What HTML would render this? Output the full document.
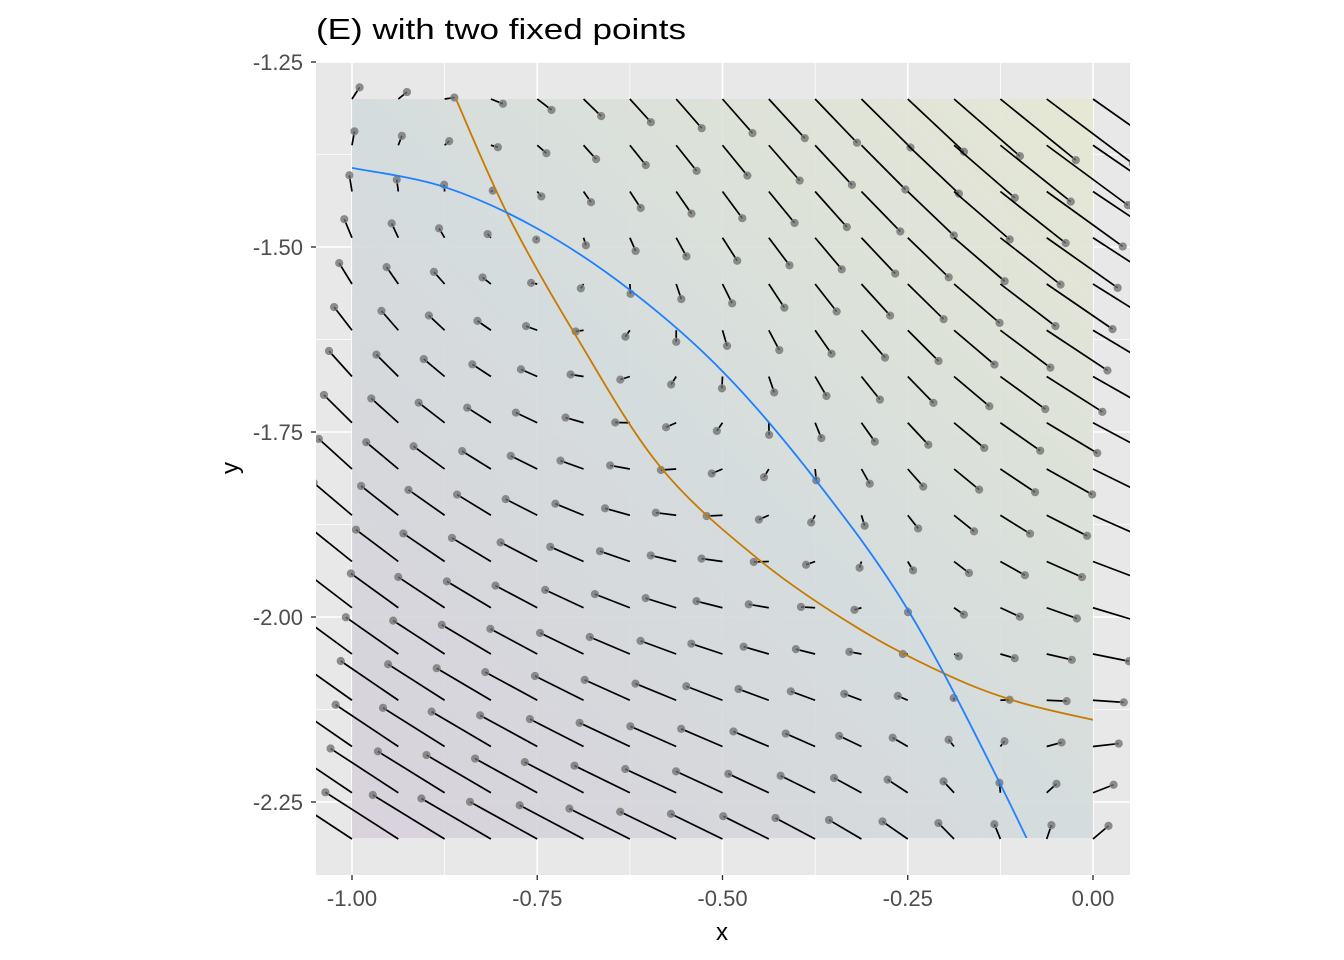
<!DOCTYPE html>
<html><head><meta charset="utf-8"><style>
body{margin:0;background:#fff;}
svg{display:block;font-family:"Liberation Sans",sans-serif;}
</style></head><body>
<svg id="chart" width="1344" height="960">
<defs>
<linearGradient id="fillg" x1="0" y1="1" x2="1" y2="0">
<stop offset="0" stop-color="#d6d0da"/><stop offset="0.5" stop-color="#d3dbdc"/><stop offset="1" stop-color="#e6e8d2"/>
</linearGradient>
<clipPath id="panelclip"><rect x="316" y="62" width="814" height="813"/></clipPath>
<clipPath id="regionclip"><rect x="352" y="99" width="741" height="739"/></clipPath>
</defs>
<rect x="316" y="62" width="814" height="813" fill="#e8e8e8"/>
<g id="grid"></g>
<rect x="352" y="99" width="741" height="739" fill="url(#fillg)" opacity="0.9"/>
<g id="field" clip-path="url(#panelclip)"></g>
<g id="curves" clip-path="url(#regionclip)"></g>
<g id="axes"></g>
<text x="316" y="39" font-size="29" textLength="370" lengthAdjust="spacingAndGlyphs" fill="#000">(E) with two fixed points</text>
<text x="722" y="940" font-size="24" text-anchor="middle" fill="#000">x</text>
<text x="238" y="468" font-size="24" text-anchor="middle" fill="#000" transform="rotate(-90 238 468)">y</text>
</svg>
<script>
const blueX=[-1,-0.875,-0.75,-0.625,-0.5,-0.375,-0.25,-0.125,0];
const blueY=[-1.393,-1.419,-1.475,-1.558,-1.668,-1.814,-1.99,-2.226,-2.49];
const orangeX=[-0.861,-0.79,-0.699,-0.584,-0.449,-0.314,-0.193,-0.1,0];
const orangeY=[-1.297,-1.456,-1.618,-1.797,-1.924,-2.017,-2.08,-2.115,-2.139];
const xTicks=[-1,-0.75,-0.5,-0.25,0];
const xTickLabels=["-1.00","-0.75","-0.50","-0.25","0.00"];
const yTicks=[-1.25,-1.5,-1.75,-2,-2.25];
const yTickLabels=["-1.25","-1.50","-1.75","-2.00","-2.25"];
const gridXs=[-1,-0.9375,-0.875,-0.8125,-0.75,-0.6875,-0.625,-0.5625,-0.5,-0.4375,-0.375,-0.3125,-0.25,-0.1875,-0.125,-0.0625,0];
const gridYs=[-1.3,-1.3625,-1.425,-1.4875,-1.55,-1.6125,-1.675,-1.7375,-1.8,-1.8625,-1.925,-1.9875,-2.05,-2.1125,-2.175,-2.2375,-2.3];

const NS='http://www.w3.org/2000/svg';
const px=x=>352+(x+1)*741;
const py=y=>62+(-1.25-y)*740;
function mk(tag,attrs,parent){const e=document.createElementNS(NS,tag);for(const k in attrs)e.setAttribute(k,attrs[k]);parent.appendChild(e);return e;}
function interp(xs,ys,x){
  let i=0; if(x<=xs[0]) i=0; else if(x>=xs[xs.length-1]) i=xs.length-2; else {while(x>xs[i+1])i++;}
  const t=(x-xs[i])/(xs[i+1]-xs[i]); return ys[i]+t*(ys[i+1]-ys[i]);
}
const g=document.getElementById('grid');
[-0.875,-0.625,-0.375,-0.125].forEach(v=>{const l=mk('line',{x1:px(v),x2:px(v),y1:62,y2:875,stroke:'#fff','stroke-width':0.8},g);

});
[-1.375,-1.625,-1.875,-2.125].forEach(v=>{const l=mk('line',{y1:py(v),y2:py(v),x1:316,x2:1130,stroke:'#fff','stroke-width':0.8},g);

});
xTicks.forEach(v=>{const l=mk('line',{x1:px(v),x2:px(v),y1:62,y2:875,stroke:'#fff','stroke-width':1.6},g);

});
yTicks.forEach(v=>{const l=mk('line',{y1:py(v),y2:py(v),x1:316,x2:1130,stroke:'#fff','stroke-width':1.6},g);

});
const f=document.getElementById('field');
gridXs.forEach(x=>{gridYs.forEach(y=>{
  const u=0.11*(y-interp(blueX,blueY,x));
  const k2=0.05+0.06*(x+1);
  const w=-k2*(y-interp(orangeX,orangeY,x));
  const x0=px(x),y0=py(y),x1=px(x+u),y1=py(y+w);
  const s=mk('line',{x1:x0,y1:y0,x2:x1,y2:y1,stroke:'#000','stroke-width':1.7},f);
  
  
  const c=mk('circle',{cx:x1,cy:y1,r:3.6,fill:'#6e6e6e','fill-opacity':0.75,stroke:'#888','stroke-width':1},f);
  
  
});});
function smoothPath(xs,ys){
  const p=xs.map((x,i)=>[px(x),py(ys[i])]);
  let d='M'+p[0][0]+','+p[0][1];
  for(let i=0;i<p.length-1;i++){
    const a=p[Math.max(i-1,0)],b=p[i],c=p[i+1],e=p[Math.min(i+2,p.length-1)];
    const c1=[b[0]+(c[0]-a[0])/6,b[1]+(c[1]-a[1])/6],c2=[c[0]-(e[0]-b[0])/6,c[1]-(e[1]-b[1])/6];
    d+=' C'+c1+' '+c2+' '+c;
  }
  return d;
}
const cv=document.getElementById('curves');
const ob=mk('path',{d:smoothPath(orangeX,orangeY),fill:'none',stroke:'#c77a00','stroke-width':1.8},cv);


const bb=mk('path',{d:smoothPath(blueX,blueY),fill:'none',stroke:'#1e80ff','stroke-width':1.8},cv);


const ax=document.getElementById('axes');
xTicks.forEach((v,i)=>{
  const t=mk('line',{x1:px(v),x2:px(v),y1:875,y2:880,stroke:'#333','stroke-width':1.4},ax);
  
  
  const l=mk('text',{x:px(v),y:906,'font-size':22,'text-anchor':'middle',fill:'#4d4d4d'},ax);
  l.textContent=xTickLabels[i];
  
  
});
yTicks.forEach((v,i)=>{
  const t=mk('line',{x1:311,x2:316,y1:py(v),y2:py(v),stroke:'#333','stroke-width':1.4},ax);
  
  
  const l=mk('text',{x:303,y:py(v)+8,'font-size':22,'text-anchor':'end',fill:'#4d4d4d'},ax);
  l.textContent=yTickLabels[i];
  
  
});
</script>
</body></html>
